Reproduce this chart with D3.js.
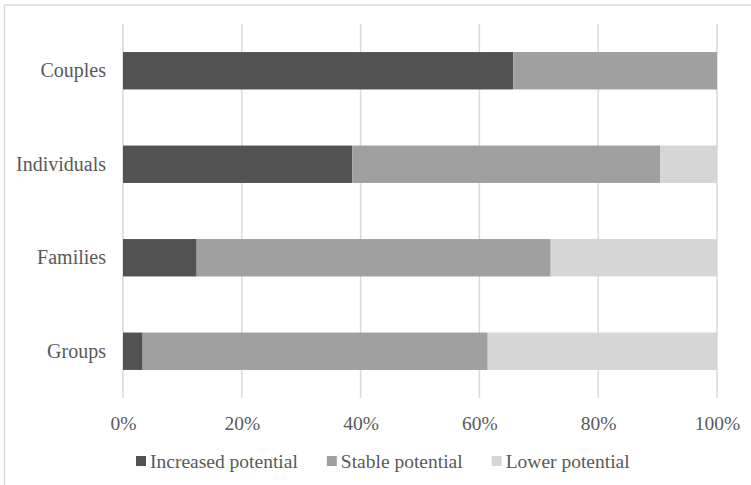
<!DOCTYPE html>
<html>
<head>
<meta charset="utf-8">
<script src="https://cdn.jsdelivr.net/npm/d3@7"></script>
<style>
  html, body { margin: 0; padding: 0; background: #fff; }
  svg { display: block; }
  svg text { font-family: "Liberation Serif", "DejaVu Serif", serif !important; fill: #595959; }
</style>
</head>
<body>
<svg id="chart" width="751" height="485"></svg>
<script>
// Household types, top to bottom
const categories = ["Couples", "Individuals", "Families", "Groups"];
// Share of each type (percent) by potential
const increased = [65.7, 38.6, 12.4, 3.3];
const stable    = [34.3, 51.8, 59.6, 58.1];
const lower     = [0.0,  9.6,  28.0, 38.6];
const seriesNames = ["Increased potential", "Stable potential", "Lower potential"];
const tickValues = [0, 20, 40, 60, 80, 100];

const colors = ["#525252", "#a0a0a0", "#d5d6d5"];
const FONT = "'Liberation Serif', 'DejaVu Serif', serif";

const svg = d3.select("#chart");
const W = 751, H = 485;
const plot = { left: 123, right: 717, top: 24, bottom: 398 };

// Chart frame (top and left edges visible)
svg.append("line").attr("x1", 4).attr("x2", W).attr("y1", 5).attr("y2", 5)
  .attr("stroke", "#d9d9d9").attr("stroke-width", 1.5);
svg.append("line").attr("x1", 4.5).attr("x2", 4.5).attr("y1", 5).attr("y2", H)
  .attr("stroke", "#d9d9d9").attr("stroke-width", 1.5);

const x = d3.scaleLinear().domain([0, 100]).range([plot.left, plot.right]);
const y = d3.scaleBand().domain(categories).range([plot.top, plot.bottom]).paddingInner(0.6).paddingOuter(0.3);

// Vertical gridlines
svg.append("g").selectAll("line").data(tickValues).join("line")
  .attr("x1", d => x(d)).attr("x2", d => x(d))
  .attr("y1", plot.top).attr("y2", plot.bottom)
  .attr("stroke", "#d9d9d9").attr("stroke-width", 1.5);

// Stacked bars
const rows = categories.map((c, i) => ({ cat: c, Increased: increased[i], Stable: stable[i], Lower: lower[i] }));
const stack = d3.stack().keys(["Increased", "Stable", "Lower"]);
const layers = stack(rows);

svg.append("g").selectAll("g").data(layers).join("g")
  .attr("fill", (d, i) => colors[i])
  .selectAll("rect").data(d => d).join("rect")
  .attr("x", d => x(d[0]))
  .attr("width", d => Math.max(0, x(d[1]) - x(d[0])))
  .attr("y", d => y(d.data.cat))
  .attr("height", y.bandwidth());

// Category axis labels
const yAxis = svg.append("g").attr("transform", `translate(${plot.left},0)`)
  .call(d3.axisLeft(y).tickSize(0).tickPadding(17))
  .attr("font-family", FONT).attr("font-size", 20);
yAxis.select(".domain").remove();
yAxis.selectAll("text").attr("fill", "#595959");

// Percentage axis labels
const xAxis = svg.append("g").attr("transform", `translate(0,${plot.bottom})`)
  .call(d3.axisBottom(x).tickValues(tickValues).tickFormat(d => d + "%").tickSize(0).tickPadding(18))
  .attr("font-family", FONT).attr("font-size", 19.5);
xAxis.select(".domain").remove();
xAxis.selectAll("text").attr("fill", "#595959");

// Legend
const legend = svg.append("g").attr("transform", "translate(0,461)")
  .attr("font-family", FONT).attr("font-size", 19.5);
let lx = 136;
seriesNames.forEach((name, i) => {
  legend.append("rect").attr("x", lx).attr("y", -5).attr("width", 10).attr("height", 10)
    .attr("fill", colors[i]);
  const t = legend.append("text").attr("x", lx + 14).attr("y", 0).attr("dy", "0.35em").text(name);
  lx += 14 + t.node().getComputedTextLength() + 29;
});
</script>
</body>
</html>
